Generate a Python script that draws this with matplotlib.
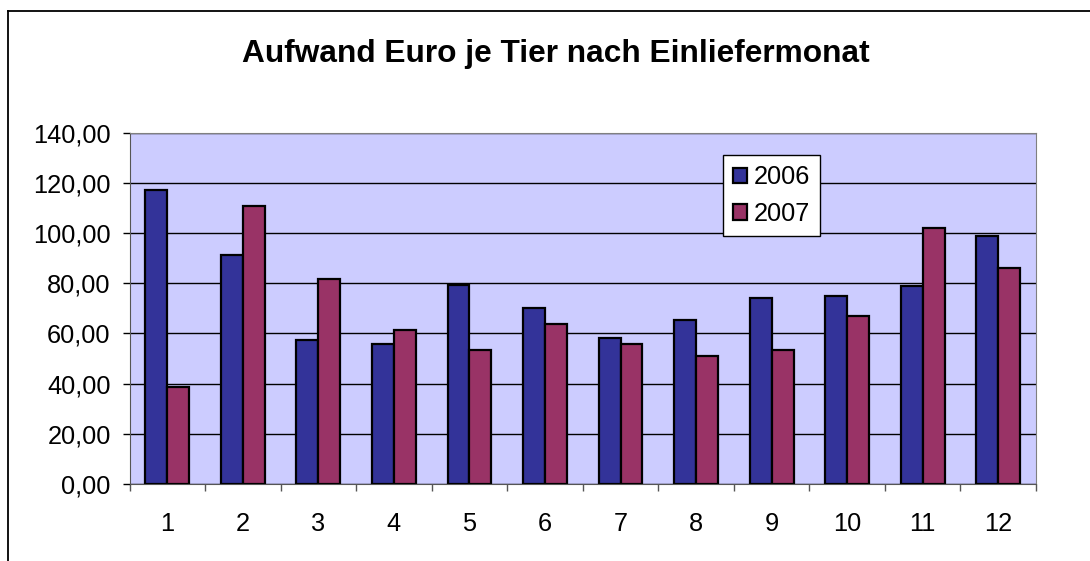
import numpy as np
import matplotlib
matplotlib.use("Agg")
import matplotlib.pyplot as plt
from matplotlib.ticker import FuncFormatter, FixedLocator
from matplotlib.lines import Line2D

plt.rcParams['font.family'] = ['Liberation Sans', 'DejaVu Sans']

months = [1, 2, 3, 4, 5, 6, 7, 8, 9, 10, 11, 12]
werte_2006 = [117.0, 91.4, 57.2, 55.6, 79.5, 70.0, 58.0, 65.3, 74.0, 74.9, 78.9, 98.7]
werte_2007 = [38.8, 110.6, 81.8, 61.2, 53.3, 63.7, 55.6, 51.0, 53.3, 66.9, 101.9, 85.9]
serien = ["2006", "2007"]
farben = ["#333399", "#993366"]

W, H = 1090, 561
fig = plt.figure(figsize=(W / 100, H / 100), dpi=100)
fig.patch.set_facecolor("white")

# outer chart border (left + top only visible)
fig.add_artist(Line2D([8 / W, 8 / W], [0, 1 - 11 / H], color="black", lw=1.3, transform=fig.transFigure))
fig.add_artist(Line2D([8 / W, 1], [1 - 11 / H, 1 - 11 / H], color="black", lw=1.3, transform=fig.transFigure))

left, right, top, bottom = 129.5, 1036, 132.7, 484
ax = fig.add_axes([left / W, (H - bottom) / H, (right - left) / W, (bottom - top) / H])
ax.set_facecolor("#CCCCFF")

x = np.arange(len(months)) + 1
bw = 0.29
ax.bar(x - bw / 2, werte_2006, bw, color=farben[0], edgecolor="black", lw=1.6, label=serien[0], zorder=3)
ax.bar(x + bw / 2, werte_2007, bw, color=farben[1], edgecolor="black", lw=1.6, label=serien[1], zorder=3)

ax.set_xlim(0.5, 12.5)
ax.set_ylim(0, 140)
ax.set_yticks(np.arange(0, 141, 20))
ax.yaxis.set_major_formatter(FuncFormatter(lambda v, p: f"{v:.2f}".replace(".", ",")))
ax.grid(axis="y", color="black", lw=1, zorder=1)
ax.set_axisbelow(True)

ax.xaxis.set_major_locator(FixedLocator(np.arange(0.5, 12.6, 1)))
ax.xaxis.set_minor_locator(FixedLocator(x))
ax.set_xticklabels([])
ax.set_xticklabels([str(m) for m in months], minor=True)
ax.tick_params(axis="x", which="major", direction="out", length=5, width=1, color="#555555")
ax.tick_params(axis="x", which="minor", length=0, pad=20, labelsize=18.3)
ax.tick_params(axis="y", direction="out", length=5, width=1, labelsize=18.3, pad=8.5)

for s in ["top", "right"]:
    ax.spines[s].set_color("#808080")
for s in ["left", "bottom"]:
    ax.spines[s].set_color("#555555")

fig.text(556 / W, 1 - 54 / H, "Aufwand Euro je Tier nach Einliefermonat",
         ha="center", va="center", fontsize=22.8, fontweight="bold")

leg = ax.legend(loc="upper left", bbox_to_anchor=(723 / W, 1 - 155 / H), bbox_transform=fig.transFigure,
                fancybox=False, framealpha=1, edgecolor="black", fontsize=18.3,
                handlelength=0.55, handleheight=0.55, handletextpad=0.25, labelspacing=0.5,
                borderpad=0.4, borderaxespad=0)
leg.get_frame().set_linewidth(1)

fig.savefig("out.png", dpi=100)
